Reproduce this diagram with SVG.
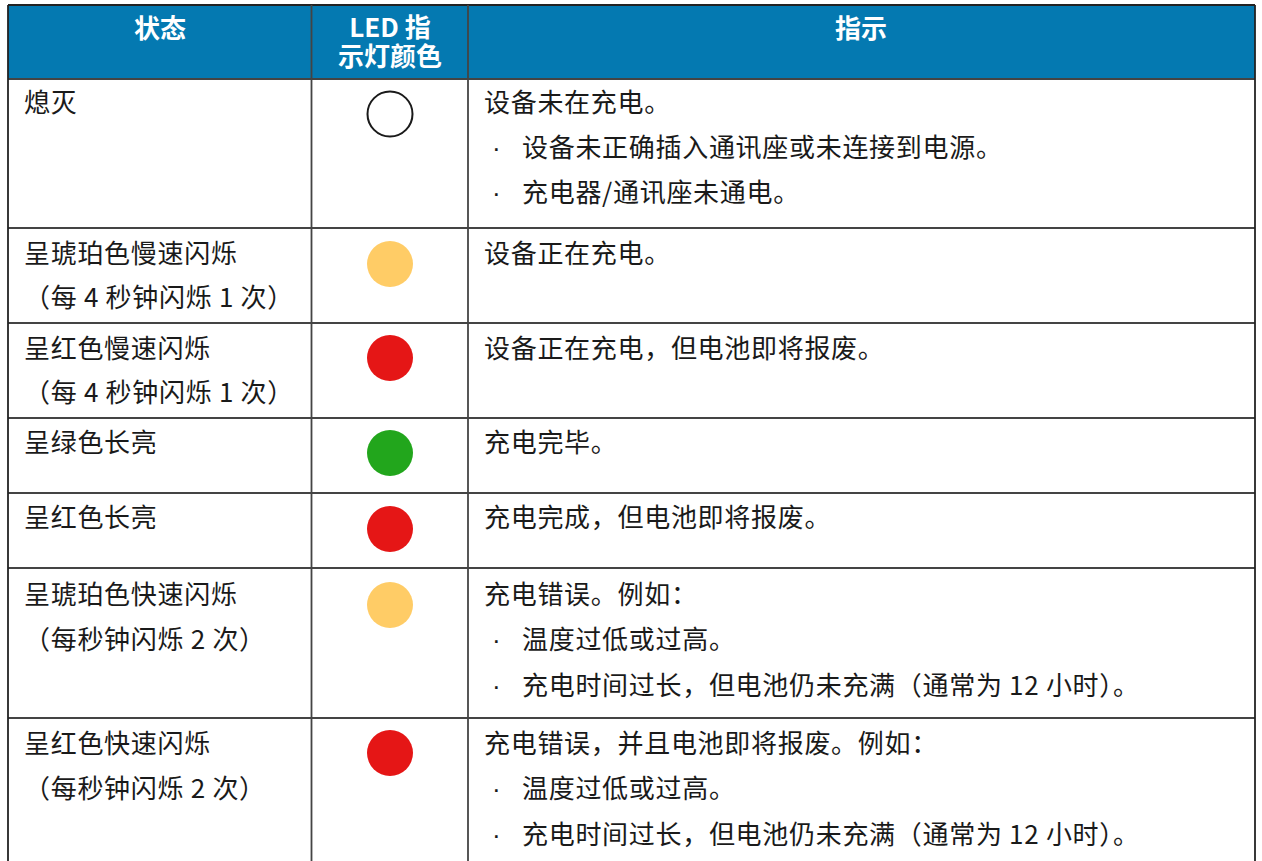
<svg xmlns="http://www.w3.org/2000/svg" width="1262" height="861" viewBox="0 0 1262 861">
<style>
.t{font-family:"Noto Sans CJK SC","Noto Sans",sans-serif;font-size:26px;fill:#1a1a1a;letter-spacing:0.7px}
.b{font-family:"Liberation Sans",Arial,sans-serif;font-size:26px;fill:#1a1a1a}
.h{font-family:"Noto Sans CJK SC","Noto Sans",sans-serif;font-size:26px;font-weight:bold;fill:#ffffff;text-anchor:middle}
.grid{stroke:#444;stroke-width:1.8;fill:none}
.amber{fill:#ffcc66}
.red{fill:#e51616}
.green{fill:#22a61c}
</style>
<rect x="8" y="5" width="1247" height="74" fill="#0479b1"/>
<g id="connectors" class="grid">
<line x1="8" y1="5" x2="1255" y2="5" stroke="#222"/>
<line x1="8" y1="79" x2="1255" y2="79"/>
<line x1="8" y1="228" x2="1255" y2="228"/>
<line x1="8" y1="323" x2="1255" y2="323"/>
<line x1="8" y1="418" x2="1255" y2="418"/>
<line x1="8" y1="493" x2="1255" y2="493"/>
<line x1="8" y1="568" x2="1255" y2="568"/>
<line x1="8" y1="718" x2="1255" y2="718"/>
<line x1="8" y1="5" x2="8" y2="861" stroke="#222"/>
<line x1="311.5" y1="5" x2="311.5" y2="861"/>
<line x1="468" y1="5" x2="468" y2="861"/>
<line x1="1255" y1="5" x2="1255" y2="861" stroke="#222"/>
</g>
<g id="header">
<text class="h" x="160" y="38">状态</text>
<text class="h"><tspan x="390" y="37">LED 指</tspan><tspan x="390" y="66">示灯颜色</tspan></text>
<text class="h" x="861" y="38">指示</text>
</g>
<g id="row-off">
<text class="t" x="24" y="112">熄灭</text>
<circle cx="390" cy="114" r="22.5" fill="none" stroke="#1a1a1a" stroke-width="2"/>
<text class="t" x="484" y="112">设备未在充电。</text>
<text class="b" x="492" y="157">·</text>
<text class="t" x="522" y="157">设备未正确插入通讯座或未连接到电源。</text>
<text class="b" x="492" y="202">·</text>
<text class="t" x="522" y="202">充电器/通讯座未通电。</text>
</g>
<g id="row-amber-slow">
<text class="t" x="24" y="263">呈琥珀色慢速闪烁</text>
<text class="t" x="24" y="307">（每 4 秒钟闪烁 1 次）</text>
<circle class="amber" cx="390" cy="264" r="23"/>
<text class="t" x="484" y="263">设备正在充电。</text>
</g>
<g id="row-red-slow">
<text class="t" x="24" y="358">呈红色慢速闪烁</text>
<text class="t" x="24" y="402">（每 4 秒钟闪烁 1 次）</text>
<circle class="red" cx="390" cy="358" r="23"/>
<text class="t" x="484" y="358">设备正在充电，但电池即将报废。</text>
</g>
<g id="row-green">
<text class="t" x="24" y="452">呈绿色长亮</text>
<circle class="green" cx="390" cy="453" r="23"/>
<text class="t" x="484" y="452">充电完毕。</text>
</g>
<g id="row-red-solid">
<text class="t" x="24" y="527">呈红色长亮</text>
<circle class="red" cx="390" cy="529" r="23"/>
<text class="t" x="484" y="527">充电完成，但电池即将报废。</text>
</g>
<g id="row-amber-fast">
<text class="t" x="24" y="604">呈琥珀色快速闪烁</text>
<text class="t" x="24" y="649">（每秒钟闪烁 2 次）</text>
<circle class="amber" cx="390" cy="605" r="23"/>
<text class="t" x="484" y="604">充电错误。例如：</text>
<text class="b" x="492" y="649">·</text>
<text class="t" x="522" y="649">温度过低或过高。</text>
<text class="b" x="492" y="695">·</text>
<text class="t" x="522" y="695">充电时间过长，但电池仍未充满（通常为 12 小时）。</text>
</g>
<g id="row-red-fast">
<text class="t" x="24" y="753">呈红色快速闪烁</text>
<text class="t" x="24" y="798">（每秒钟闪烁 2 次）</text>
<circle class="red" cx="390" cy="753" r="23"/>
<text class="t" x="484" y="753">充电错误，并且电池即将报废。例如：</text>
<text class="b" x="492" y="798">·</text>
<text class="t" x="522" y="798">温度过低或过高。</text>
<text class="b" x="492" y="844">·</text>
<text class="t" x="522" y="844">充电时间过长，但电池仍未充满（通常为 12 小时）。</text>
</g>
</svg>
